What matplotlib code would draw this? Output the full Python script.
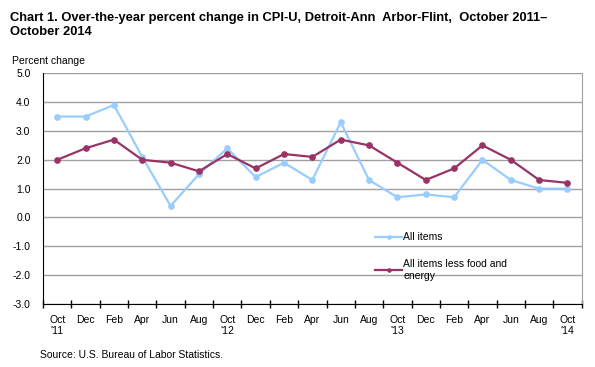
import matplotlib.pyplot as plt
import numpy as np

plt.rcParams['font.family'] = ['Liberation Sans', 'DejaVu Sans']

months = ['Oct', 'Dec', 'Feb', 'Apr', 'Jun', 'Aug',
          'Oct', 'Dec', 'Feb', 'Apr', 'Jun', 'Aug',
          'Oct', 'Dec', 'Feb', 'Apr', 'Jun', 'Aug', 'Oct']
years = {0: "'11", 6: "'12", 12: "'13", 18: "'14"}

all_items = [3.5, 3.5, 3.9, 2.1, 0.4, 1.5, 2.4, 1.4, 1.9, 1.3,
             3.3, 1.3, 0.7, 0.8, 0.7, 2.0, 1.3, 1.0, 1.0]
less_food_energy = [2.0, 2.4, 2.7, 2.0, 1.9, 1.6, 2.2, 1.7, 2.2, 2.1,
                    2.7, 2.5, 1.9, 1.3, 1.7, 2.5, 2.0, 1.3, 1.2]

labels = []
for i, m in enumerate(months):
    labels.append(m + '\n' + years.get(i, ''))

fig = plt.figure(figsize=(5.95, 3.67), dpi=100)
ax = fig.add_axes([0.0723, 0.1717, 0.9053, 0.6286])

x = np.arange(len(months))
ax.plot(x, all_items, color='#99ccff', lw=1.6, marker='o', ms=3.8,
        label='All items', zorder=3)
ax.plot(x, less_food_energy, color='#993366', lw=1.6, marker='o', ms=3.8,
        label='All items less food and\nenergy', zorder=4)

ax.set_xlim(-0.5, len(months) - 0.5)
ax.set_ylim(-3, 5)
ax.set_yticks(np.arange(-3, 6, 1))
ax.set_yticklabels(['%.1f' % v for v in np.arange(-3, 6, 1)], fontsize=7.5)
ax.yaxis.grid(True, color='#a0a0a0', lw=1)
ax.set_axisbelow(True)
ax.tick_params(axis='y', length=0, pad=9)

ax.set_xticks(x)
ax.set_xticklabels(labels, fontsize=7.5, linespacing=1.1)
ax.set_xticks(np.arange(-0.5, len(months), 1), minor=True)
ax.tick_params(axis='x', which='major', length=0, pad=8)
ax.tick_params(axis='x', which='minor', length=6, direction='inout', width=1)

ax.spines['left'].set_color('black')
ax.spines['bottom'].set_color('black')
ax.spines['right'].set_color('#a0a0a0')
ax.spines['top'].set_visible(False)

ax.legend(loc='upper left', bbox_to_anchor=(0.5995, 0.351), frameon=False,
          fontsize=7.5, handlelength=2.6, handletextpad=0.1,
          labelspacing=1.6, markerscale=0.6)

fig.text(0.017, 0.967, 'Chart 1. Over-the-year percent change in CPI-U, Detroit-Ann  Arbor-Flint,  October 2011\u2013\nOctober 2014',
         fontsize=9.25, fontweight='bold', va='top', linespacing=1.25)
fig.text(0.02, 0.835, 'Percent change', fontsize=7.5, va='center')
fig.text(0.067, 0.033, 'Source: U.S. Bureau of Labor Statistics.', fontsize=7.5, va='center')

fig.savefig('out.png', dpi=100)
